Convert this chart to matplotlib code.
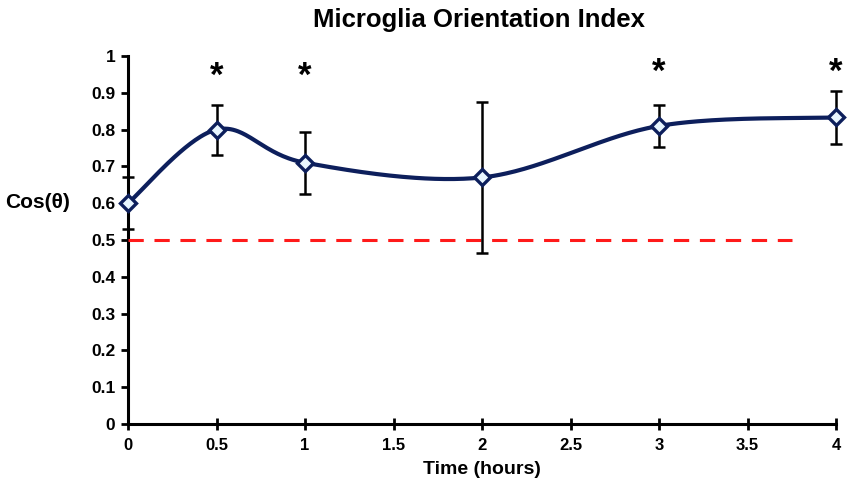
import numpy as np
import matplotlib
matplotlib.use('Agg')
import matplotlib.pyplot as plt
from matplotlib import font_manager

# data
hours = [0, 0.5, 1, 2, 3, 4]
cos_theta = [0.60, 0.80, 0.71, 0.67, 0.81, 0.833]
err = [0.07, 0.068, 0.084, 0.204, 0.058, 0.071]
star_x = [0.5, 1, 3, 4]
star_y = [0.945, 0.945, 0.955, 0.955]
ref_level = 0.5
ref_end = 3.75

xticks = [0, 0.5, 1, 1.5, 2, 2.5, 3, 3.5, 4]
xtick_labels = ['0', '0.5', '1', '1.5', '2', '2.5', '3', '3.5', '4']
yticks = [0, 0.1, 0.2, 0.3, 0.4, 0.5, 0.6, 0.7, 0.8, 0.9, 1]
ytick_labels = ['0', '0.1', '0.2', '0.3', '0.4', '0.5', '0.6', '0.7', '0.8', '0.9', '1']

names = {f.name for f in font_manager.fontManager.ttflist}
narrow = 'Liberation Sans Narrow' if 'Liberation Sans Narrow' in names else 'Liberation Sans'
wide = 'Liberation Sans'

W, H, dpi = 847, 488, 100
fig = plt.figure(figsize=(W/dpi, H/dpi), dpi=dpi)
ax = fig.add_axes([128/W, 1-424/H, 708/W, 368/H])
ax.set_xlim(0, 4)
ax.set_ylim(0, 1)


def excel_smooth(xs, ys, sx, sy, n=60):
    # Catmull-Rom style bezier like Excel's smoothed line, done in screen space
    P = np.column_stack([np.array(xs)*sx, np.array(ys)*sy])
    out = []
    for i in range(len(P)-1):
        p0 = P[i-1] if i > 0 else P[i]
        p1 = P[i]
        p2 = P[i+1]
        p3 = P[i+2] if i+2 < len(P) else P[i+1]
        c1 = p1 + (p2-p0)/6
        c2 = p2 - (p3-p1)/6
        t = np.linspace(0, 1, n)[:, None]
        seg = (1-t)**3*p1 + 3*(1-t)**2*t*c1 + 3*(1-t)*t**2*c2 + t**3*p2
        out.append(seg)
    out = np.vstack(out)
    return out[:, 0]/sx, out[:, 1]/sy


ax.plot([0, ref_end], [ref_level, ref_level], color='#ff1a1a', lw=2.2,
        dashes=(5, 3.5), zorder=2)

sx_, sy_ = excel_smooth(hours, cos_theta, 708/4, 368)
ax.plot(sx_, sy_, color='#0d1f5c', lw=3, zorder=3, solid_capstyle='round')
ax.errorbar(hours, cos_theta, yerr=err, fmt='none', ecolor='black',
            elinewidth=1.8, capsize=4, capthick=1.8, zorder=4, clip_on=False)
ax.plot(hours, cos_theta, linestyle='none', marker='D', markersize=8,
        markerfacecolor='#e8f6ff', markeredgecolor='#0d1f5c',
        markeredgewidth=2.4, zorder=5, clip_on=False)

for x, y in zip(star_x, star_y):
    ax.text(x, y, '*', ha='center', va='center', fontsize=25,
            fontweight='bold', family=wide)

for s in ['top', 'right']:
    ax.spines[s].set_visible(False)
for s in ['left', 'bottom']:
    ax.spines[s].set_linewidth(2.2)
ax.spines['left'].set_zorder(1)

ax.set_xticks(xticks)
ax.set_xticklabels(xtick_labels, family=narrow, fontweight='bold', fontsize=12)
ax.set_yticks(yticks)
ax.set_yticklabels(ytick_labels, family=wide, fontweight='bold', fontsize=12.5)
ax.tick_params(axis='x', direction='inout', length=8, width=2, pad=6)
ax.tick_params(axis='y', direction='out', length=5, width=2, pad=4)

ax.set_xlabel('Time (hours)', family=narrow, fontweight='bold', fontsize=14,
              labelpad=6)
fig.text(5/W, 1-203/H, 'Cos(θ)', family=wide, fontweight='bold', fontsize=15,
         ha='left', va='center')
fig.text(479/W, 1-20/H, 'Microglia Orientation Index', family=narrow,
         fontweight='bold', fontsize=18.5, ha='center', va='center')

fig.savefig('out.png', dpi=dpi)
